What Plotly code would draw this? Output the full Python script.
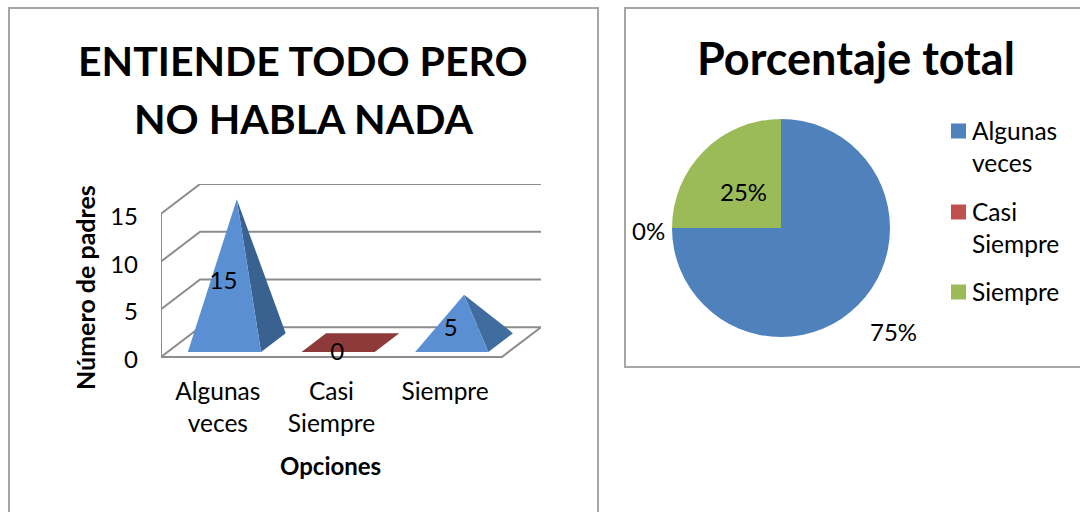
import plotly.graph_objects as go

# Datos
categorias = ["Algunas veces", "Casi Siempre", "Siempre"]
etiquetas_eje = ["Algunas<br>veces", "Casi<br>Siempre", "Siempre"]
padres = [15, 0, 5]
porcentajes_colores = ["#4F81BD", "#C0504D", "#9BBB59"]
ticks_y = [0, 5, 10, 15]

W = 1080
H = 512
FUENTE = "Lato"
GRIS = "#8C8C8C"

# Proyeccion oblicua del grafico 3D (en unidades de los ejes)
DX = 0.344
DY = 3.125
MEDIO_ANCHO = 0.322
D_FRENTE = 0.17
D_FONDO = 0.80
D_CENTRO = 0.485
X_MIN = -0.5
X_MAX = 2.5
AJUSTE_TICK = 0.28  # las etiquetas del eje y van un poco mas abajo que la linea


def proy(x, y, d):
    return x + d * DX, y + d * DY


def px_x(p):
    return p / W


def px_y(p):
    return 1 - p / H


def poligono(fig, puntos, color):
    xs = [p[0] for p in puntos]
    ys = [p[1] for p in puntos]
    fig.add_trace(go.Scatter(x=xs, y=ys, mode="lines", fill="toself", fillcolor=color,
                             line=dict(width=0), hoverinfo="skip", showlegend=False))


fig = go.Figure()

# Paredes y suelo
xs_rejilla = []
ys_rejilla = []
for t in ticks_y:
    pts = [proy(X_MIN, t, 0), proy(X_MIN, t, 1), proy(X_MAX, t, 1)]
    xs_rejilla += [p[0] for p in pts] + [None]
    ys_rejilla += [p[1] for p in pts] + [None]
pts = [proy(X_MIN, ticks_y[-1], 0), proy(X_MIN, 0, 0), proy(X_MAX, 0, 0), proy(X_MAX, 0, 1)]
xs_rejilla += [p[0] for p in pts]
ys_rejilla += [p[1] for p in pts]
fig.add_trace(go.Scatter(x=xs_rejilla, y=ys_rejilla, mode="lines", line=dict(color=GRIS, width=2),
                         hoverinfo="skip", showlegend=False, cliponaxis=False))

# Piramides
colores_frente = ["#5B8FD3", "#8E3A3A", "#5B8FD3"]
colores_lado = ["#3A6291", "#8E3A3A", "#416C9F"]
for i, v in enumerate(padres):
    fl = proy(i - MEDIO_ANCHO, 0, D_FRENTE)
    fr = proy(i + MEDIO_ANCHO, 0, D_FRENTE)
    br = proy(i + MEDIO_ANCHO, 0, D_FONDO)
    bl = proy(i - MEDIO_ANCHO, 0, D_FONDO)
    apice = proy(i, v, D_CENTRO)
    if v == 0:
        poligono(fig, [fl, fr, br, bl, fl], colores_frente[i])
    else:
        poligono(fig, [fr, br, apice, fr], colores_lado[i])
        poligono(fig, [fl, fr, apice, fl], colores_frente[i])

# Etiquetas de datos
fig.add_trace(go.Scatter(x=[i + 0.05 for i in range(len(padres))], y=[v / 2 + 0.3 for v in padres],
                         mode="text", text=[str(v) for v in padres], textposition="middle center",
                         textfont=dict(family=FUENTE, size=24, color="black"),
                         hoverinfo="skip", showlegend=False, cliponaxis=False))

# Grafico circular
fig.add_trace(go.Pie(labels=categorias, values=padres, sort=False, direction="clockwise", rotation=0,
                     marker=dict(colors=porcentajes_colores), textinfo="none",
                     domain=dict(x=[px_x(672), px_x(890)], y=[px_y(337), px_y(119)]),
                     showlegend=False))

fig.update_xaxes(domain=[px_x(161), px_x(541)], range=[X_MIN, X_MAX + DX], showgrid=False, zeroline=False,
                 showline=False, tickmode="array", tickvals=list(range(len(padres))), ticktext=etiquetas_eje,
                 ticks="", ticklabelstandoff=8, tickfont=dict(family=FUENTE, size=24.5, color="black"),
                 automargin=False, fixedrange=True)
# el rango parte de -1 para que la etiqueta ajustada del 0 no se pierda
fig.update_yaxes(domain=[px_y(357 + 9.55), px_y(184)], range=[-1, ticks_y[-1] + DY], showgrid=False, zeroline=False,
                 showline=False, tickmode="array", tickvals=[t - AJUSTE_TICK for t in ticks_y],
                 ticktext=[str(t) for t in ticks_y], ticks="", ticklabelstandoff=22,
                 tickfont=dict(family=FUENTE, size=24, color="black"), automargin=False, fixedrange=True)

anotaciones = [
    dict(text="<b>ENTIENDE TODO PERO</b>", x=303, y=60, size=41),
    dict(text="<b>NO HABLA NADA</b>", x=303, y=118, size=41),
    dict(text="<b>Porcentaje total</b>", x=856, y=58, size=45),
    dict(text="<b>Opciones</b>", x=330, y=465, size=24),
    dict(text="<b>Número de padres</b>", x=85, y=288, size=25, textangle=-90),
]
annotations = []
for a in anotaciones:
    annotations.append(dict(text=a["text"], x=px_x(a["x"]), y=px_y(a["y"]), xref="paper", yref="paper", showarrow=False,
                            xanchor="center", yanchor="middle", textangle=a.get("textangle", 0),
                            font=dict(family=FUENTE, size=a["size"], color="black")))

# Porcentajes del circulo, calculados de los valores
total = sum(padres)
pos_porcentaje = [(894, 331), (648, 230), (743, 191)]
for v, (xp, yp) in zip(padres, pos_porcentaje):
    annotations.append(dict(text=f"{v / total:.0%}", x=px_x(xp), y=px_y(yp), xref="paper", yref="paper",
                            showarrow=False, xanchor="center", yanchor="middle",
                            font=dict(family=FUENTE, size=24, color="black")))

# Marcos
formas = []
for x0, y0, x1, y1 in [(9, 8, 598, 530), (625, 8, 1100, 367)]:
    formas.append(dict(type="rect", xref="paper", yref="paper", x0=px_x(x0), x1=px_x(x1), y0=px_y(y0), y1=px_y(y1),
                       line=dict(color="#A6A6A6", width=2), layer="below"))

# Leyenda
leyenda_y = [131, 212, 292]
leyenda_texto = ["Algunas<br>veces", "Casi<br>Siempre", "Siempre"]
for color, yc, texto in zip(porcentajes_colores, leyenda_y, leyenda_texto):
    formas.append(dict(type="rect", xref="paper", yref="paper", x0=px_x(951), x1=px_x(966),
                       y0=px_y(yc + 7.5), y1=px_y(yc - 7.5), fillcolor=color, line=dict(width=0)))
    annotations.append(dict(text=texto, x=px_x(970), y=px_y(yc - 17), xref="paper", yref="paper", showarrow=False,
                            xanchor="left", yanchor="top", align="left",
                            font=dict(family=FUENTE, size=24.5, color="black")))

fig.update_layout(width=W, height=H, margin=dict(l=0, r=0, t=0, b=0), paper_bgcolor="white", plot_bgcolor="rgba(0,0,0,0)",
                  showlegend=False, annotations=annotations, shapes=formas)

fig.write_html("out.html", config=dict(displayModeBar=False),
               post_script="document.body.style.margin='0';document.body.style.overflow='hidden';")
